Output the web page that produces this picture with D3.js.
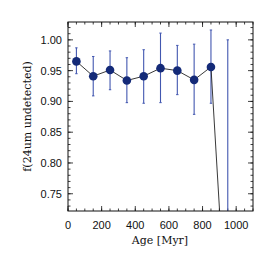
<!DOCTYPE html>
<html>
<head>
<meta charset="utf-8">
<script src="https://cdn.jsdelivr.net/npm/d3@7"></script>
<style>
body { margin: 0; background: #fff; }
svg text { fill: #111; }
</style>
</head>
<body>
<svg id="chart" width="274" height="255"></svg>
<script>
// age bins (Myr) and fraction of stars undetected at 24um
var ages = [50, 150, 250, 350, 450, 550, 650, 750, 850, 950];
var frac = [0.965, 0.941, 0.951, 0.934, 0.941, 0.954, 0.950, 0.935, 0.956, 0.50];
var errLo = [0.945, 0.909, 0.919, 0.898, 0.897, 0.898, 0.911, 0.879, 0.897, 0.0];
var errHi = [0.987, 0.973, 0.982, 0.971, 0.984, 1.011, 0.991, 0.993, 1.016, 1.0];
var xTicks = [0, 200, 400, 600, 800, 1000];
var yTicks = [0.75, 0.80, 0.85, 0.90, 0.95, 1.00];

var svg = d3.select('#chart');
var pL = 68, pR = 253, pT = 22, pB = 211;

var x = d3.scaleLinear().domain([0, 1100]).range([pL, pR]);
var y = d3.scaleLinear().domain([0.722, 1.029]).range([pB, pT]);

var g = svg.append('g');

// minor + major ticks on all four sides, pointing inward
var xMinor = d3.range(0, 1101, 50);
var yMinor = d3.range(0.73, 1.025, 0.01);

function tickLines(vals, isX, len) {
	vals.forEach(function(v) {
		if (isX) {
			var px = x(v);
			g.append('line').attr('x1', px).attr('x2', px).attr('y1', pB).attr('y2', pB - len);
			g.append('line').attr('x1', px).attr('x2', px).attr('y1', pT).attr('y2', pT + len);
		} else {
			var py = y(v);
			g.append('line').attr('y1', py).attr('y2', py).attr('x1', pL).attr('x2', pL + len);
			g.append('line').attr('y1', py).attr('y2', py).attr('x1', pR).attr('x2', pR - len);
		}
	});
}
tickLines(xMinor, true, 2.5);
tickLines(xTicks, true, 5);
tickLines(yMinor, false, 2.5);
tickLines(yTicks, false, 5);
g.selectAll('line').attr('stroke', '#111').attr('stroke-width', 0.8);

svg.append('clipPath').attr('id', 'plotclip')
	.append('rect').attr('x', pL).attr('y', pT).attr('width', pR - pL).attr('height', pB - pT);

var plot = svg.append('g').attr('clip-path', 'url(#plotclip)');

// error bars
var idx = d3.range(ages.length);
plot.selectAll('line.err').data(idx).enter().append('line')
	.attr('class', 'err')
	.attr('x1', function(i) { return x(ages[i]); })
	.attr('x2', function(i) { return x(ages[i]); })
	.attr('y1', function(i) { return y(errLo[i]); })
	.attr('y2', function(i) { return y(errHi[i]); })
	.attr('stroke', '#4257b0').attr('stroke-width', 1.1);
plot.selectAll('line.caphi').data(idx).enter().append('line')
	.attr('class', 'caphi')
	.attr('x1', function(i) { return x(ages[i]) - 1.2; })
	.attr('x2', function(i) { return x(ages[i]) + 1.2; })
	.attr('y1', function(i) { return y(errHi[i]); })
	.attr('y2', function(i) { return y(errHi[i]); })
	.attr('stroke', '#4257b0').attr('stroke-width', 1);
plot.selectAll('line.caplo').data(idx).enter().append('line')
	.attr('class', 'caplo')
	.attr('x1', function(i) { return x(ages[i]) - 1.2; })
	.attr('x2', function(i) { return x(ages[i]) + 1.2; })
	.attr('y1', function(i) { return y(errLo[i]); })
	.attr('y2', function(i) { return y(errLo[i]); })
	.attr('stroke', '#4257b0').attr('stroke-width', 1);

// connecting line
var line = d3.line()
	.x(function(i) { return x(ages[i]); })
	.y(function(i) { return y(frac[i]); });
plot.append('path').datum(idx).attr('d', line)
	.attr('fill', 'none').attr('stroke', '#222').attr('stroke-width', 0.9);

// points
plot.selectAll('circle').data(idx).enter().append('circle')
	.attr('cx', function(i) { return x(ages[i]); })
	.attr('cy', function(i) { return y(frac[i]); })
	.attr('r', 4.3)
	.attr('fill', '#142a78');

// frame
svg.append('rect').attr('x', pL).attr('y', pT).attr('width', pR - pL).attr('height', pB - pT)
	.attr('fill', 'none').attr('stroke', '#111').attr('stroke-width', 1);

// tick labels
svg.selectAll('text.xt').data(xTicks).enter().append('text')
	.attr('class', 'xt')
	.attr('x', function(d) { return x(d); })
	.attr('y', 229)
	.attr('text-anchor', 'middle')
	.style('font', '11px "Liberation Sans", Arial, sans-serif')
	.text(function(d) { return d; });
svg.selectAll('text.yt').data(yTicks).enter().append('text')
	.attr('class', 'yt')
	.attr('x', 62)
	.attr('y', function(d) { return y(d) + 4; })
	.attr('text-anchor', 'end')
	.style('font', '11px "Liberation Sans", Arial, sans-serif')
	.text(function(d) { return d.toFixed(2); });

// axis titles
svg.append('text').attr('x', 160).attr('y', 244).attr('text-anchor', 'middle')
	.style('font', '11px "DejaVu Serif", "Liberation Serif", serif')
	.text('Age [Myr]');
svg.append('text').attr('transform', 'translate(31,' + ((pT + pB) / 2) + ') rotate(-90)')
	.attr('text-anchor', 'middle')
	.style('font', '11px "DejaVu Serif", "Liberation Serif", serif')
	.text('f(24um undetected)');
</script>
</body>
</html>
